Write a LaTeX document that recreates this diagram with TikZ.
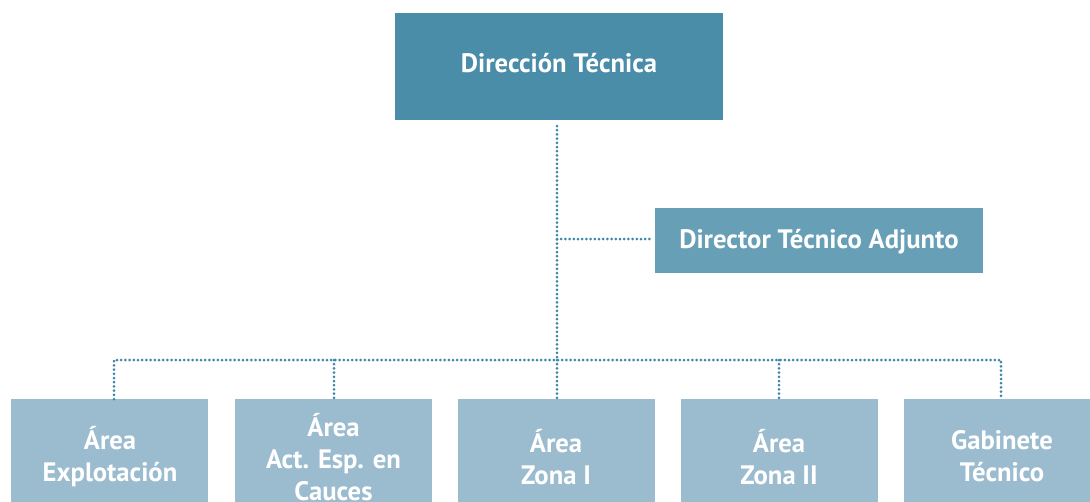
\documentclass[tikz,border=0pt]{standalone}
\usepackage{fontspec}
\setmainfont{PT Sans}
\definecolor{topc}{HTML}{4A8DA8}
\definecolor{midc}{HTML}{679FB7}
\definecolor{lowc}{HTML}{9BBCCF}
\definecolor{linec}{HTML}{3F87A6}
\begin{document}
\begin{tikzpicture}[x=0.75pt,y=-0.75pt,
  box/.style={inner sep=0pt,text=white,font=\bfseries\fontsize{20}{24}\selectfont,align=center},
  topbox/.style={box,fill=topc,minimum width=328*0.75pt,minimum height=107*0.75pt},
  midbox/.style={box,fill=midc,minimum width=328*0.75pt,minimum height=65*0.75pt},
  lowbox/.style={box,fill=lowc,minimum width=197*0.75pt,minimum height=140*0.75pt},
  lbl/.style={box},
  conn/.style={linec,line width=3*0.75pt,dash pattern=on 0pt off 4.2*0.75pt,line cap=round}]
\useasboundingbox (0,0) rectangle (1090,501);
\clip (0,0) rectangle (1090,501);
\node[topbox] (top) at (559,66.5) {};
\node[lbl] (toplbl) at (559,63) {Dirección Técnica};
\node[midbox] (adj) at (819,240.5) {};
\node[lbl] (adjlbl) at (819,242) {Director Técnico Adjunto};
\node[lowbox,anchor=north] (a1) at (109.5,399) {};
\node[lowbox,anchor=north] (a2) at (333.5,399) {};
\node[lowbox,anchor=north] (a3) at (556,399) {};
\node[lowbox,anchor=north] (a4) at (779.5,399) {};
\node[lowbox,anchor=north] (a5) at (1002.5,399) {};
\node[lbl] (l1) at (110,457) {Área\\Explotación};
\node[lbl] (l2) at (333.5,457) {Área\\Act. Esp. en\\Cauces};
\node[lbl] (l3) at (556,457) {Área\\Zona I};
\node[lbl] (l4) at (779,457) {Área\\Zona II};
\node[lbl] (l5) at (1002,456) {Gabinete\\Técnico};
\coordinate (j) at (557,239);
\coordinate (h) at (557,360);
\coordinate (t) at (557,126);
\draw[conn] (t) -- (h);
\draw[conn] (j) -- ([xshift=-4*0.75pt]adj.west |- j);
\draw[conn] (a1.north -| 114,0) |- (1001,360) -- (a5.north -| 1001,0);
\draw[conn] (334,360) -- (a2.north -| 334,0);
\draw[conn] (h) -- (a3.north -| 557,0);
\draw[conn] (779,360) -- (a4.north -| 779,0);
\end{tikzpicture}
\end{document}
